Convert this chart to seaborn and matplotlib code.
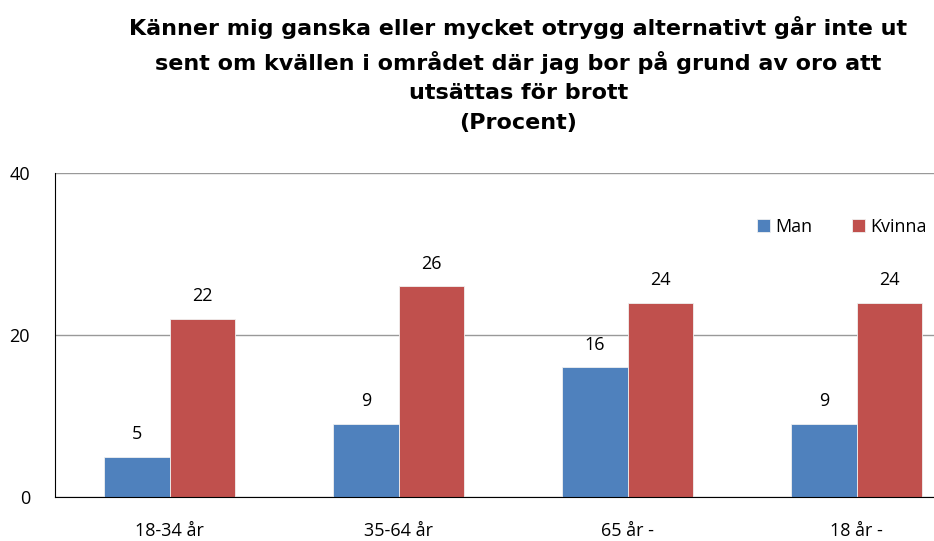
import matplotlib
matplotlib.use("Agg")
import matplotlib.pyplot as plt
import seaborn as sns
import pandas as pd

categories = ["18-34 år", "35-64 år", "65 år -", "18 år -"]
man = [5, 9, 16, 9]
kvinna = [22, 26, 24, 24]
series = ["Man", "Kvinna"]
colors = ["#4F81BD", "#C0504D"]
title = ("Känner mig ganska eller mycket otrygg alternativt går inte ut\n"
         "sent om kvällen i området där jag bor på grund av oro att\n"
         "utsättas för brott\n(Procent)")

df = pd.DataFrame({
    "grupp": categories * 2,
    "kon": ["Man"] * len(categories) + ["Kvinna"] * len(categories),
    "procent": man + kvinna,
})

sns.set_style("white")
plt.rcParams['font.family'] = ['Open Sans', 'DejaVu Sans']
plt.rcParams['text.color'] = 'black'
plt.rcParams['xtick.color'] = 'black'
plt.rcParams['ytick.color'] = 'black'

fig = plt.figure(figsize=(9.34, 5.41), dpi=100)
ax = fig.add_axes([55 / 934, 44 / 541, 916 / 934, 324 / 541])

sns.barplot(data=df, x="grupp", y="procent", hue="kon", hue_order=series,
            palette=colors, width=0.57, gap=0, saturation=1, ax=ax, legend=True,
            edgecolor="#f0f0f0", linewidth=0.6)

for cont in ax.containers:
    ax.bar_label(cont, padding=10, fontsize=13, color="black")

ax.set_ylim(0, 40)
ax.set_yticks([0, 20, 40])
ax.set_xlim(-0.5, 3.5)
ax.yaxis.grid(True, color="#999999", lw=1)
ax.set_axisbelow(True)
for s in ["top", "right"]:
    ax.spines[s].set_visible(False)
ax.spines["left"].set_color("black")
ax.spines["bottom"].set_color("black")
ax.tick_params(axis="y", labelsize=13, pad=18, length=0)
ax.tick_params(axis="x", labelsize=13, pad=18, length=0)
ax.set_xlabel("")
ax.set_ylabel("")

handles, labels = ax.get_legend_handles_labels()
ax.legend(handles, labels, ncol=2, frameon=False, fontsize=13,
          loc="center left", bbox_to_anchor=(741 / 934, 1 - 227 / 541),
          bbox_transform=fig.transFigure, handlelength=0.7, handleheight=0.7,
          handletextpad=0.3, columnspacing=2.2)

fig.text(0.555, 0.970, title, ha="center", va="top", fontsize=16,
         fontweight="bold", family="DejaVu Sans", linespacing=1.6,
         color="black")

fig.savefig("out.png", dpi=100)
